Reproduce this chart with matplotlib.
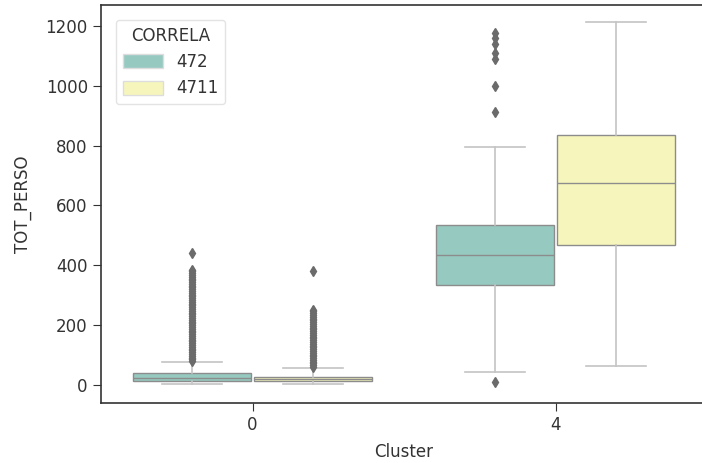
import matplotlib
matplotlib.use("Agg")
import matplotlib.pyplot as plt
import seaborn as sns
from matplotlib.patches import Patch

clusters = ["0", "4"]
hue_levels = ["472", "4711"]

# box statistics per (cluster, correla): lower whisker, q1, median, q3, upper whisker
stats_472 = {
    "0": dict(whislo=3, q1=13, med=23, q3=40, whishi=77),
    "4": dict(whislo=44, q1=335, med=436, q3=536, whishi=795),
}
stats_4711 = {
    "0": dict(whislo=3, q1=13, med=20, q3=27, whishi=57),
    "4": dict(whislo=64, q1=469, med=674, q3=835, whishi=1213),
}
fliers_472 = {
    "0": [80, 86, 92, 98, 104, 110, 116, 122, 128, 134, 140, 146, 152, 158, 164, 170,
          176, 182, 188, 194, 200, 206, 212, 218, 224, 230, 236, 242, 248, 254, 260,
          266, 272, 278, 284, 290, 296, 302, 308, 314, 320, 326, 332, 338, 344, 350,
          356, 362, 368, 374, 380, 386, 440],
    "4": [10, 914, 1000, 1090, 1110, 1140, 1160, 1175],
}
fliers_4711 = {
    "0": [60, 66, 72, 78, 84, 90, 96, 102, 108, 114, 120, 126, 132, 138, 144, 150,
          156, 162, 168, 174, 180, 186, 192, 198, 204, 210, 216, 222, 228, 234, 240,
          246, 251, 382],
    "4": [],
}

xlabel = "Cluster"
ylabel = "TOT_PERSO"
legend_title = "CORRELA"
yticks = [0, 200, 400, 600, 800, 1000, 1200]

c1 = sns.desaturate("#8dd3c7", 0.75)
c2 = sns.desaturate("#ffffb3", 0.75)
colors = [c1, c2]
edge = "#8c8c8c"
whisk = "#c4c4c4"

fig = plt.figure(figsize=(7.02, 4.63), dpi=100)
ax = fig.add_axes([101/702, 1-403/463, 606/702, 398/463])

width = 0.4 * 0.98
for hi, (stats, fl) in enumerate([(stats_472, fliers_472), (stats_4711, fliers_4711)]):
    for ci, c in enumerate(clusters):
        s = dict(stats[c])
        s["fliers"] = fl[c]
        pos = ci + (-0.2 if hi == 0 else 0.2)
        ax.bxp([s], positions=[pos], widths=[width], patch_artist=True,
               boxprops=dict(facecolor=colors[hi], edgecolor=edge, linewidth=1.0),
               medianprops=dict(color=edge, linewidth=1.0),
               whiskerprops=dict(color=whisk, linewidth=1.2),
               capprops=dict(color=whisk, linewidth=1.2),
               flierprops=dict(marker="d", markersize=5.5, markerfacecolor="#6b6b6b",
                               markeredgecolor="#6b6b6b", linestyle="none"),
               manage_ticks=False)

ax.set_xlim(-0.5, 1.5)
ax.set_ylim(-60, 1270)
ax.set_xticks([0, 1])
ax.set_xticklabels(clusters)
ax.set_yticks(yticks)
ax.tick_params(labelsize=12, length=6, color="#333333", labelcolor="#333333")
ax.set_xlabel(xlabel, fontsize=12, color="#333333", labelpad=6)
ax.set_ylabel(ylabel, fontsize=12, color="#333333", labelpad=10)
for sp in ax.spines.values():
    sp.set_color("#333333")
    sp.set_linewidth(1.2)

handles = [Patch(facecolor=colors[i], edgecolor="#dddddd", label=hue_levels[i]) for i in range(2)]
leg = ax.legend(handles=handles, title=legend_title, loc="upper left", fontsize=12,
                title_fontsize=12, frameon=True, handlelength=2.4, handleheight=0.9,
                borderaxespad=0.9)
leg.get_frame().set_edgecolor("#dddddd")
for t in leg.get_texts():
    t.set_color("#333333")
leg.get_title().set_color("#333333")

fig.savefig("out.png", dpi=100)
